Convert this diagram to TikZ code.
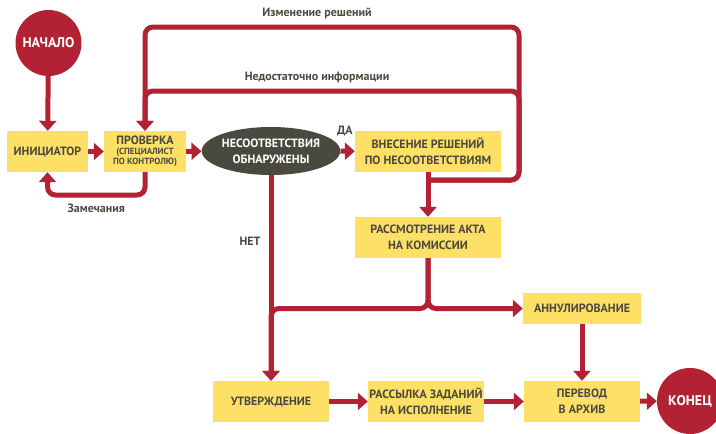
\documentclass[tikz,border=0pt]{standalone}
\usepackage{fontspec}
\setmainfont{PT Sans}
\usetikzlibrary{arrows.meta,shapes.geometric}
\definecolor{pRed}{RGB}{178,34,52}
\definecolor{pYellow}{RGB}{255,224,102}
\definecolor{pDark}{RGB}{74,73,64}
\tikzset{
    box/.style={rectangle, fill=pYellow, text=pDark, inner sep=0pt, align=center,
        font=\bfseries\fontsize{12}{16}\selectfont},
    term/.style={circle, fill=pRed, text=white, inner sep=0pt, minimum size=66pt,
        font=\bfseries\fontsize{14}{16}\selectfont},
    line/.style={pRed, line width=5pt, rounded corners=8pt},
    arr/.style={line, -{Triangle[width=17pt,length=10pt]}},
    lbl/.style={text=pDark, inner sep=0pt, font=\bfseries\fontsize{12}{14}\selectfont}
}

\begin{document}
\begin{tikzpicture}[x=1pt,y=-1pt]
\useasboundingbox (0,0) rectangle (716,434);
% nodes
\node[term] (start) at (48.5,43) {НАЧАЛО};
\node[box, minimum width=81pt, minimum height=41pt] (init) at (47.5,151.5) {ИНИЦИАТОР};
\node[box, minimum width=82pt, minimum height=41pt, font=\bfseries\fontsize{9}{10}\selectfont]
    (prov) at (145,151.5) {{\fontsize{12}{10}\selectfont ПРОВЕРКА}\\(СПЕЦИАЛИСТ\\ПО КОНТРОЛЮ)};
\node[ellipse, fill=pDark, text=white, inner sep=0pt, minimum width=138pt, minimum height=48pt,
    align=center, font=\bfseries\fontsize{12}{16}\selectfont]
    (nes) at (271,151) {НЕСООТВЕТСТВИЯ\\ОБНАРУЖЕНЫ};
\node[box, minimum width=146pt, minimum height=41pt] (vnes) at (428,151.5) {ВНЕСЕНИЕ РЕШЕНИЙ\\ПО НЕСООТВЕТСТВИЯМ};
\node[box, minimum width=146pt, minimum height=41pt] (rass) at (428,237.5) {РАССМОТРЕНИЕ АКТА\\НА КОМИССИИ};
\node[box, minimum width=118pt, minimum height=31pt] (annul) at (582,308.5) {АННУЛИРОВАНИЕ};
\node[box, minimum width=116pt, minimum height=41pt] (utv) at (271,401.5) {УТВЕРЖДЕНИЕ};
\node[box, minimum width=116pt, minimum height=41pt] (rassyl) at (426,401.5) {РАССЫЛКА ЗАДАНИЙ\\НА ИСПОЛНЕНИЕ};
\node[box, minimum width=116pt, minimum height=41pt] (perev) at (582,401.5) {ПЕРЕВОД\\В АРХИВ};
\node[term] (fin) at (690,401) {КОНЕЦ};
% loop corners
\coordinate (zam) at (145,195);
\coordinate (j1) at (428,180);
\coordinate (r1) at (519,27);
\coordinate (r2) at (519,91);
% connectors
\draw[arr] (start) -- (init);
\draw[arr] (init) -- (prov);
\draw[arr] (prov) -- (nes);
\draw[arr] (nes) -- node[lbl, above=13pt, pos=0.3] {ДА} (vnes);
\draw[arr] (prov.south) -- (zam) -- node[lbl, below=6pt] {Замечания} (zam -| init) -- (init.south);
\draw[arr] (j1) -| (r1) -| node[lbl, above=6pt, pos=0.27] {Изменение решений} (prov.north);
\draw[arr] (j1) -| (r2) -| node[lbl, above=6pt, pos=0.27] {Недостаточно информации} (prov.north);
\draw[arr] (vnes) -- (rass);
\draw[arr] (nes) -- node[lbl, left=8pt, pos=0.32] {НЕТ} (utv);
\draw[arr] (rass.south) |- (annul);
\draw[arr] (rass.south) |- (nes |- annul) -- (utv.north);
\draw[arr] (annul) -- (perev);
\draw[arr] (utv) -- (rassyl);
\draw[arr] (rassyl) -- (perev);
\draw[arr] (perev) -- (fin);
\end{tikzpicture}
\end{document}
